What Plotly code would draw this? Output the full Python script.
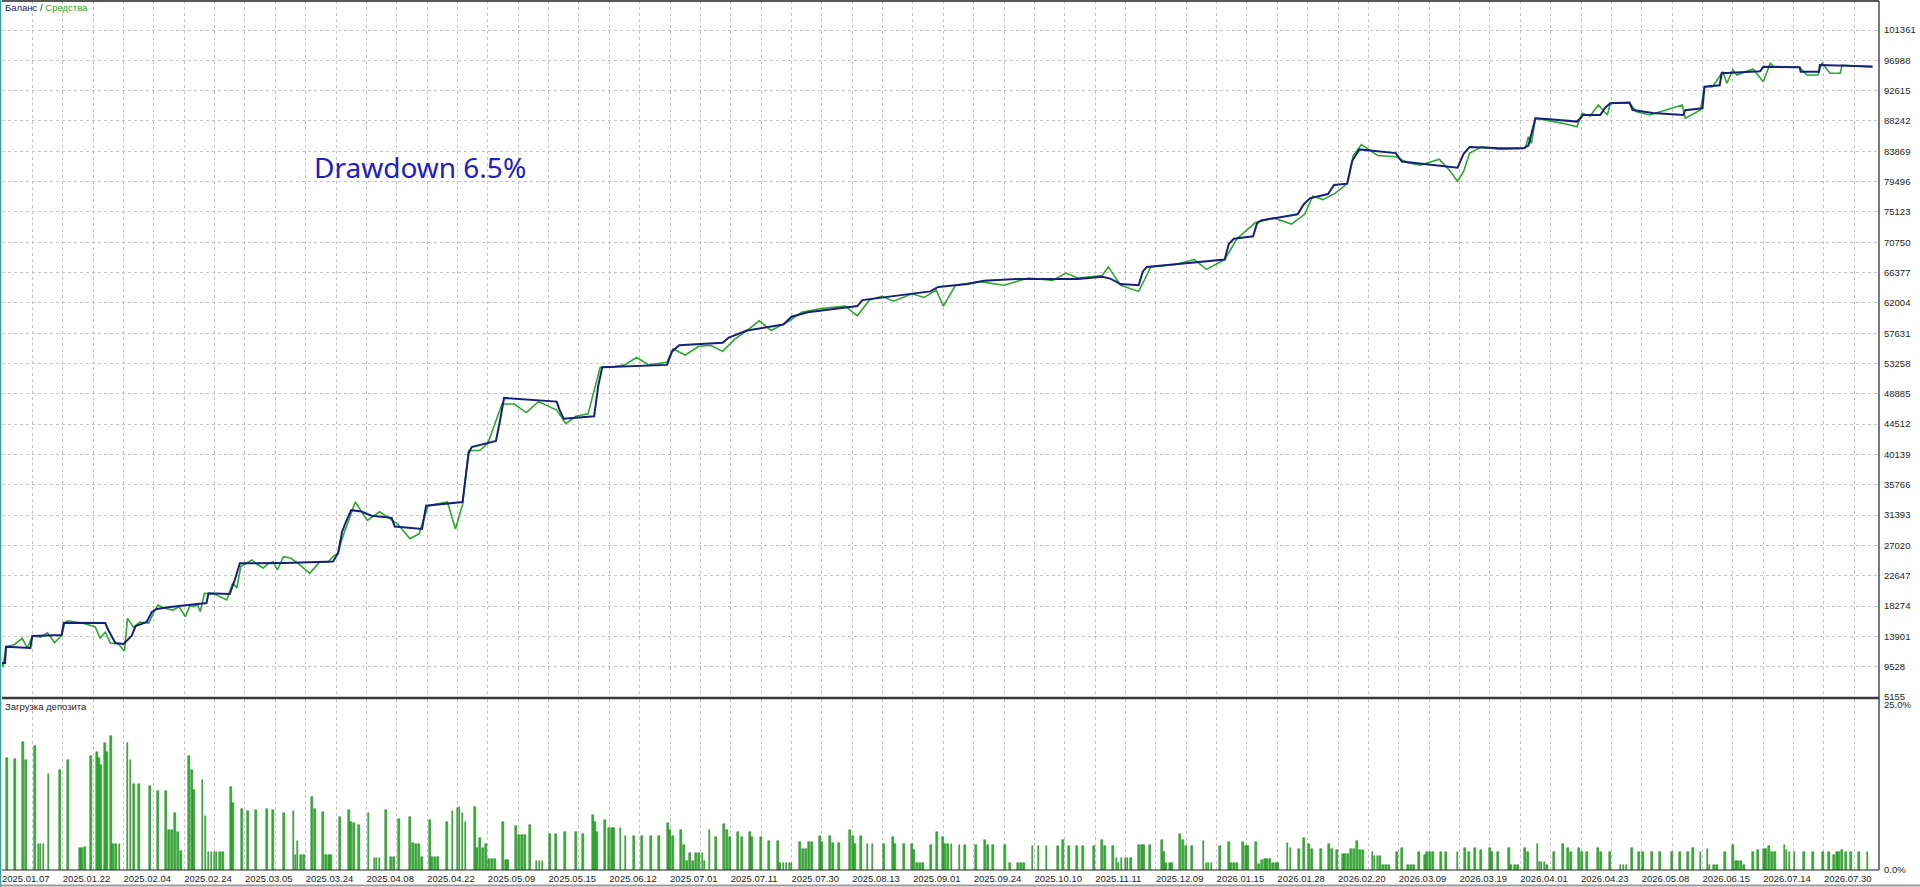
import plotly.graph_objects as go

# ---------------- data ----------------
dates = ["2025.01.07", "2025.01.22", "2025.02.04", "2025.02.24", "2025.03.05", "2025.03.24",
         "2025.04.08", "2025.04.22", "2025.05.09", "2025.05.15", "2025.06.12", "2025.07.01",
         "2025.07.11", "2025.07.30", "2025.08.13", "2025.09.01", "2025.09.24", "2025.10.10",
         "2025.11.11", "2025.12.09", "2026.01.15", "2026.01.28", "2026.02.20", "2026.03.09",
         "2026.03.19", "2026.04.01", "2026.04.23", "2026.05.08", "2026.06.15", "2026.07.14",
         "2026.07.30"]

y_ticks = [5155, 9528, 13901, 18274, 22647, 27020, 31393, 35766, 40139, 44512, 48885, 53258,
           57631, 62004, 66377, 70750, 75123, 79496, 83869, 88242, 92615, 96988, 101361]

bal_x = [0, 3, 4, 28, 30, 59, 61, 102, 105, 109, 112, 120, 124, 128, 132, 143, 148, 153, 166, 186,
         202, 204, 225, 230, 235, 280, 327, 332, 336, 340, 345, 355, 365, 385, 388, 415, 419, 455,
         458, 461, 464, 488, 492, 496, 548, 551, 555, 585, 589, 593, 657, 662, 669, 712, 718, 736,
         772, 780, 796, 845, 850, 869, 917, 925, 954, 970, 1002, 1063, 1087, 1095, 1105, 1123,
         1127, 1131, 1159, 1208, 1212, 1217, 1236, 1240, 1244, 1280, 1286, 1292, 1310, 1316, 1329,
         1334, 1341, 1377, 1383, 1438, 1444, 1450, 1480, 1503, 1508, 1515, 1529, 1556, 1560, 1562,
         1579, 1584, 1589, 1608, 1611, 1631, 1661, 1663, 1680, 1682, 1697, 1699, 1737, 1740, 1776,
         1777, 1795, 1796, 1848]
bal_y = [10060, 10060, 12410, 12220, 13950, 14100, 15870, 15830, 14820, 13670, 12940, 12800, 13380,
         13950, 15390, 15970, 17420, 17850, 18140, 18430, 18710, 20110, 20010, 22030, 24440, 24500,
         24700, 25900, 29000, 30500, 32100, 31900, 31300, 31000, 29750, 29400, 32750, 33280, 36500,
         40300, 41200, 42100, 45000, 48300, 47760, 46500, 45290, 45640, 50000, 52710, 53060, 55000,
         55890, 56240, 57000, 58010, 58890, 60000, 60660, 61540, 62400, 62780, 63660, 64300, 64720,
         65200, 65430, 65430, 65780, 65500, 64720, 64540, 66500, 67190, 67540, 68250, 70500, 71250,
         71600, 73500, 73900, 74780, 76200, 77080, 77700, 79000, 79200, 82500, 84140, 83610, 82380,
         81500, 83500, 84500, 84300, 84300, 84700, 88630, 88500, 88150, 88700, 89100, 89100, 90200,
         90790, 90900, 89820, 89400, 89100, 89800, 90060, 93180, 93400, 95120, 95400, 96070, 96000,
         95350, 95350, 96310, 96100]

eq_x = [0, 1, 4, 12, 20, 25, 30, 38, 45, 52, 59, 62, 65, 80, 92, 97, 102, 107, 115, 121, 124, 130,
        136, 145, 150, 154, 160, 169, 175, 181, 186, 189, 193, 196, 200, 210, 222, 228, 232, 236,
        247, 252, 258, 263, 268, 272, 278, 285, 292, 304, 310, 314, 322, 327, 332, 336, 349, 361,
        373, 391, 403, 412, 421, 440, 448, 455, 461, 472, 480, 494, 506, 518, 530, 548, 557, 567,
        579, 591, 603, 615, 627, 639, 657, 663, 675, 688, 700, 712, 724, 736, 748, 760, 778, 790,
        809, 833, 845, 857, 869, 881, 899, 911, 923, 930, 942, 966, 990, 1014, 1038, 1051, 1063,
        1087, 1093, 1105, 1123, 1135, 1159, 1178, 1190, 1208, 1220, 1238, 1256, 1274, 1287, 1295,
        1305, 1317, 1329, 1335, 1343, 1359, 1377, 1389, 1401, 1420, 1431, 1438, 1444, 1450, 1462,
        1480, 1505, 1508, 1511, 1515, 1542, 1556, 1561, 1569, 1577, 1586, 1589, 1608, 1615, 1628,
        1660, 1663, 1678, 1682, 1690, 1700, 1704, 1710, 1714, 1730, 1740, 1747, 1750, 1776, 1783,
        1794, 1798, 1806, 1816, 1818, 1848]
eq_y = [10060, 9470, 12410, 12700, 13620, 12220, 13950, 13800, 14430, 12990, 14100, 15870, 16150,
        15800, 15300, 13670, 14500, 12950, 12800, 11790, 16490, 15200, 15970, 15800, 17400, 18420,
        18000, 17700, 18200, 16740, 18400, 18180, 18500, 17460, 20110, 20000, 19150, 21600, 20880,
        24000, 24920, 24300, 23760, 24400, 24670, 23470, 25390, 25200, 24500, 23000, 24000, 24670,
        24600, 25390, 25900, 28000, 33280, 30630, 31870, 30110, 27990, 28690, 32750, 33280, 29400,
        32930, 40700, 40700, 41760, 47410, 47410, 46180, 47760, 46530, 44590, 45650, 46000, 52710,
        52710, 53060, 54120, 53060, 53420, 55360, 54480, 55710, 55890, 55010, 56770, 58010, 59420,
        58010, 59420, 60660, 61190, 61540, 60130, 62420, 62960, 62250, 63310, 62780, 63840, 61540,
        64540, 65070, 64540, 65600, 65250, 66310, 65600, 65960, 67190, 64540, 63660, 67190, 67540,
        68250, 66840, 68250, 71250, 73550, 74260, 73370, 74780, 77430, 76900, 77790, 79200, 83260,
        84850, 83260, 83090, 82200, 81850, 82730, 80970, 79550, 80970, 83610, 84500, 84150, 84300,
        85970, 85020, 88630, 87900, 87410, 89350, 88960, 90540, 89100, 90790, 90790, 89580, 89100,
        90540, 88630, 89820, 93180, 93180, 95350, 93670, 95590, 94870, 95740, 93910, 96560, 96110,
        95990, 94870, 94870, 96650, 95120, 95120, 96310, 95990]

load_x = [5, 13, 21, 24, 33, 36, 38, 41, 46, 57, 65, 77, 79, 82, 88, 94, 96, 98, 102, 104, 108, 110,
          113, 116, 124, 127, 130, 135, 146, 154, 162, 165, 168, 171, 174, 177, 185, 188, 190, 198,
          201, 204, 207, 210, 212, 215, 218, 226, 228, 237, 243, 251, 262, 268, 279, 288, 290, 292,
          295, 298, 306, 309, 317, 320, 323, 325, 334, 343, 345, 348, 353, 362, 368, 370, 373, 379,
          384, 387, 392, 403, 406, 409, 412, 415, 423, 425, 428, 431, 440, 445, 450, 452, 455, 458,
          467, 469, 472, 475, 478, 481, 484, 487, 495, 498, 500, 508, 511, 514, 517, 522, 528, 531,
          534, 541, 547, 556, 567, 574, 584, 586, 588, 596, 600, 603, 605, 611, 616, 624, 632, 641,
          649, 658, 660, 663, 671, 674, 677, 680, 683, 686, 689, 692, 694, 699, 705, 713, 716, 719,
          727, 731, 739, 741, 750, 758, 767, 769, 772, 775, 778, 780, 788, 791, 794, 797, 800, 808,
          810, 818, 821, 827, 838, 841, 843, 849, 855, 860, 871, 880, 882, 891, 899, 901, 904, 907,
          910, 918, 924, 930, 932, 935, 938, 946, 951, 962, 971, 974, 979, 991, 996, 1004, 1007,
          1010, 1018, 1024, 1032, 1043, 1048, 1054, 1062, 1068, 1079, 1087, 1090, 1098, 1101, 1103,
          1106, 1110, 1112, 1115, 1123, 1126, 1128, 1134, 1146, 1148, 1150, 1154, 1156, 1164, 1167,
          1170, 1176, 1187, 1190, 1192, 1195, 1203, 1212, 1214, 1217, 1220, 1226, 1229, 1231, 1239,
          1242, 1245, 1248, 1250, 1253, 1256, 1259, 1261, 1270, 1273, 1281, 1286, 1291, 1294, 1303,
          1311, 1314, 1319, 1325, 1327, 1330, 1333, 1336, 1339, 1342, 1345, 1354, 1356, 1359, 1361,
          1364, 1367, 1370, 1378, 1383, 1389, 1392, 1395, 1400, 1406, 1408, 1411, 1414, 1422, 1427,
          1438, 1445, 1449, 1455, 1461, 1470, 1472, 1478, 1489, 1491, 1495, 1498, 1505, 1508, 1517,
          1519, 1521, 1524, 1526, 1533, 1542, 1547, 1550, 1558, 1561, 1566, 1577, 1580, 1589, 1599,
          1602, 1605, 1610, 1617, 1621, 1630, 1638, 1650, 1658, 1666, 1671, 1678, 1685, 1687, 1691,
          1694, 1702, 1710, 1713, 1715, 1718, 1721, 1730, 1735, 1741, 1743, 1746, 1749, 1752, 1761,
          1763, 1766, 1771, 1780, 1789, 1799, 1805, 1810, 1813, 1815, 1818, 1822, 1827, 1835, 1843]
load_y = [16.9, 16.8, 19.4, 16.6, 18.8, 3.9, 3.9, 3.9, 14.6, 15.2, 16.7, 3.4, 3.4, 3.5, 17.2, 17.9,
          16.9, 15.9, 19.2, 17.8, 20.3, 4.0, 4.0, 4.0, 19.3, 16.6, 13.1, 13.0, 12.7, 12.0, 11.9, 6.1,
          6.1, 8.6, 5.8, 2.9, 17.3, 15.2, 12.1, 13.6, 8.2, 2.7, 2.7, 2.7, 2.7, 2.7, 2.7, 12.5, 10.2,
          9.2, 9.0, 9.1, 9.2, 9.1, 8.7, 9.0, 2.3, 4.4, 2.3, 2.3, 11.0, 9.2, 8.8, 2.3, 2.3, 2.2, 8.1,
          9.1, 7.2, 7.1, 6.8, 8.6, 1.8, 1.8, 1.8, 9.1, 1.9, 1.9, 7.8, 8.0, 4.1, 4.0, 3.9, 1.9, 7.6,
          1.9, 1.9, 1.9, 7.3, 8.9, 9.4, 9.6, 8.7, 7.3, 9.5, 3.3, 4.8, 3.3, 4.0, 1.6, 1.6, 1.6, 7.2,
          1.5, 1.5, 6.6, 5.3, 5.3, 5.3, 6.8, 1.4, 1.4, 1.4, 5.5, 5.5, 5.7, 5.7, 5.5, 8.3, 7.3, 5.7,
          7.6, 6.3, 6.3, 6.3, 6.3, 5.2, 5.1, 5.1, 5.1, 5.1, 7.1, 6.0, 5.1, 6.0, 3.8, 1.3, 2.5, 1.3,
          2.5, 2.5, 2.5, 1.3, 6.0, 5.0, 7.0, 6.0, 5.0, 5.8, 5.0, 5.8, 5.0, 5.0, 4.4, 4.4, 1.1, 1.1,
          1.1, 1.1, 1.1, 4.2, 3.2, 3.2, 4.2, 4.2, 5.2, 4.3, 5.1, 4.1, 4.1, 6.0, 5.1, 4.0, 5.1, 4.0,
          4.0, 4.0, 5.0, 4.0, 4.0, 4.0, 3.0, 1.1, 1.1, 1.1, 3.8, 5.8, 5.0, 4.0, 4.0, 4.0, 3.8, 3.8,
          3.8, 4.6, 3.8, 3.8, 3.8, 1.0, 1.0, 1.0, 1.0, 3.7, 3.7, 3.7, 3.7, 4.5, 3.7, 3.7, 3.7, 3.7,
          4.5, 3.7, 3.7, 1.8, 1.0, 1.8, 1.8, 1.8, 1.8, 3.8, 3.8, 3.8, 3.8, 4.5, 2.7, 1.0, 1.0, 1.0,
          5.4, 4.5, 3.7, 3.7, 4.4, 1.0, 1.0, 1.0, 3.7, 4.3, 1.0, 1.0, 1.0, 4.3, 3.7, 3.7, 4.2, 0.9,
          1.5, 1.7, 1.7, 1.7, 1.0, 1.0, 1.0, 4.1, 3.3, 3.2, 4.8, 4.0, 3.2, 3.2, 4.0, 3.2, 3.0, 2.4,
          2.4, 2.4, 3.2, 3.2, 4.4, 3.0, 3.0, 2.8, 2.1, 2.1, 2.1, 0.8, 0.8, 0.8, 2.8, 3.4, 0.8, 0.8,
          0.8, 2.8, 2.2, 2.8, 2.8, 2.8, 2.8, 2.8, 2.8, 3.4, 2.8, 3.4, 3.0, 3.3, 2.8, 2.8, 3.3, 0.8,
          0.8, 0.8, 3.3, 2.7, 3.9, 1.2, 1.2, 1.2, 0.8, 2.7, 3.9, 3.4, 2.7, 3.3, 2.7, 2.7, 3.3, 2.7,
          2.7, 0.8, 0.8, 0.8, 3.4, 2.7, 2.7, 2.7, 2.7, 2.8, 2.8, 2.8, 3.3, 2.8, 3.2, 0.7, 0.7, 0.7,
          2.8, 3.8, 1.3, 1.3, 1.3, 0.7, 2.7, 3.0, 3.2, 3.2, 3.6, 2.7, 2.7, 3.8, 3.0, 2.7, 2.7, 2.7,
          2.7, 2.7, 2.7, 2.2, 2.7, 2.7, 3.0, 2.7, 2.7, 2.7, 2.7]

load_ticks = [0, 25]
load_tick_text = ["0.0%", "25.0%"]

# ---------------- figure ----------------
W, H = 1920, 887
ML, MR, MT, MB = 2, 41, 1, 17
PW, PH = W - ML - MR, H - MT - MB
SPLIT_MAIN = (870 - 697) / PH
SPLIT_LOW = (870 - 699) / PH
X_MAX = 1854.4
GRID = "#c4c4c4"
TXT = "#1e1e1e"
FONT = "Liberation Sans"

grid_vals = list(range(0, 1831, 30))
grid_text = [dates[i // 2] if i % 2 == 0 else "" for i in range(len(grid_vals))]

fig = go.Figure()
fig.add_trace(go.Scatter(x=eq_x, y=eq_y, mode="lines", line=dict(color="#2ea82e", width=1.6),
                         xaxis="x", yaxis="y", showlegend=False, hoverinfo="skip"))
fig.add_trace(go.Scatter(x=bal_x, y=bal_y, mode="lines", line=dict(color="#16227a", width=2),
                         xaxis="x", yaxis="y", showlegend=False, hoverinfo="skip"))
fig.add_trace(go.Bar(x=load_x, y=load_y, width=1.8, marker=dict(color="#36b336",
                     line=dict(color="#1c7a1c", width=0.5)),
                     xaxis="x2", yaxis="y2", showlegend=False, hoverinfo="skip"))

axis_common = dict(showline=False, zeroline=False, ticks="")
fig.update_layout(
    width=W, height=H,
    margin=dict(l=ML, r=MR, t=MT, b=MB),
    paper_bgcolor="white", plot_bgcolor="white",
    font=dict(family=FONT, size=9.5, color=TXT),
    bargap=0,
    xaxis=dict(domain=[0, 1], anchor="y", range=[0, X_MAX], tickvals=grid_vals,
               showticklabels=False, showgrid=True, gridcolor=GRID, griddash="3px,3px",
               gridwidth=1, **axis_common),
    yaxis=dict(domain=[SPLIT_MAIN, 1], anchor="x", side="right", range=[5155, 105546],
               tickvals=y_ticks, ticktext=[str(v) for v in y_ticks], showgrid=True,
               gridcolor=GRID, griddash="3px,3px", gridwidth=1, ticklabelstandoff=4,
               tickfont=dict(family=FONT, size=9.5, color=TXT), **axis_common),
    xaxis2=dict(domain=[0, 1], anchor="y2", range=[0, X_MAX], tickvals=grid_vals,
                ticktext=grid_text, ticklabelposition="outside right", showgrid=True,
                gridcolor=GRID, griddash="3px,3px", gridwidth=1, ticklabelstandoff=1,
                tickfont=dict(family=FONT, size=9.5, color=TXT), **axis_common),
    yaxis2=dict(domain=[0, SPLIT_LOW], anchor="x2", side="right", range=[0, 25.9],
                tickvals=load_ticks, ticktext=load_tick_text, showgrid=False,
                ticklabelstandoff=4, tickfont=dict(family=FONT, size=9.5, color=TXT),
                **axis_common),
)

def py(px_y):
    return (870 - px_y) / PH

def pxp(px_x):
    return (px_x - ML) / PW

shapes = [
    dict(type="line", xref="paper", yref="paper", x0=0, x1=1, y0=1, y1=1,
         line=dict(color="#202020", width=1.5)),
    dict(type="line", xref="paper", yref="paper", x0=1, x1=1, y0=0, y1=1,
         line=dict(color="#202020", width=1.2)),
    dict(type="line", xref="paper", yref="paper", x0=0, x1=1, y0=py(698), y1=py(698),
         line=dict(color="#3a3a3a", width=2.5)),
    dict(type="line", xref="paper", yref="paper", x0=0, x1=1, y0=0, y1=0,
         line=dict(color="#202020", width=1.2)),
    dict(type="line", xref="paper", yref="paper", x0=pxp(0.5), x1=pxp(0.5), y0=py(887), y1=py(0),
         line=dict(color="#3f9c9c", width=1.5)),
    dict(type="line", xref="paper", yref="paper", x0=pxp(0), x1=pxp(1920), y0=py(885.5), y1=py(885.5),
         line=dict(color="#9a9a9a", width=2)),
]
fig.update_layout(shapes=shapes)

fig.add_annotation(xref="paper", yref="paper", x=pxp(4), y=py(8), xanchor="left", yanchor="middle",
                   text='<span style="color:#1c1c6a">Баланс</span> / <span style="color:#2ea82e">Средства</span>',
                   showarrow=False, font=dict(family=FONT, size=9.5, color=TXT), borderpad=0)
fig.add_annotation(xref="paper", yref="paper", x=pxp(4), y=py(706), xanchor="left", yanchor="middle",
                   text="Загрузка депозита", showarrow=False,
                   font=dict(family=FONT, size=9.5, color=TXT), borderpad=0)
fig.add_annotation(xref="paper", yref="paper", x=pxp(313), y=py(167), xanchor="left", yanchor="middle",
                   text="Drawdown 6.5%", showarrow=False,
                   font=dict(family="Noto Sans", size=28, color="#2020c4"), borderpad=0)

fig.write_html("out.html", config={"displayModeBar": False},
               post_script="document.body.style.margin='0';document.body.style.padding='0';"
                           "document.body.style.overflow='hidden';")
